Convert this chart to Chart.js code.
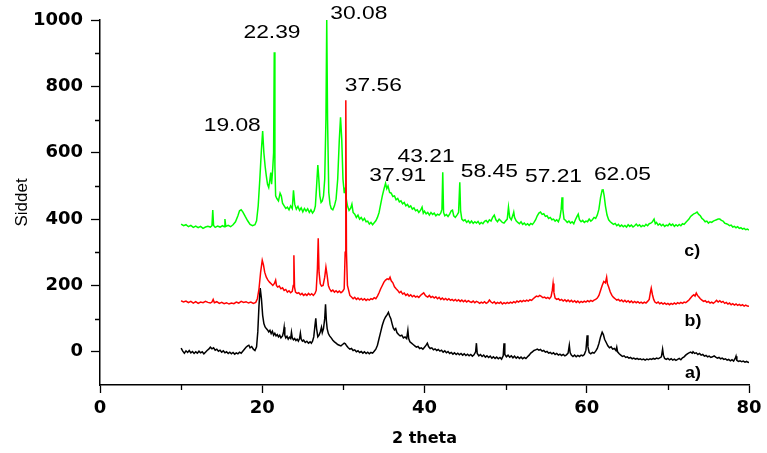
<!DOCTYPE html>
<html>
<head>
<meta charset="utf-8">
<style>
  html, body { margin: 0; padding: 0; background: #fff; }
  #wrap { width: 767px; height: 453px; }
</style>
<script src="https://cdn.jsdelivr.net/npm/chart.js@4.4.1/dist/chart.umd.min.js"></script>
</head>
<body>
<div id="wrap"><canvas id="xrdChart"></canvas></div>
<script>
// sample c) - green trace [2 theta, intensity]
const sampleC = [
  [10.0,385],[10.3,380],[10.6,383],[10.9,377],[11.2,381],[11.5,375],[11.8,379],[12.1,374],[12.4,378],[12.7,372],
  [13.0,376],[13.3,378],[13.6,376],[13.8,380],[13.9,427],[14.0,381],[14.2,375],[14.5,379],[14.8,376],[15.1,380],
  [15.3,377],[15.4,400],[15.5,378],[15.8,381],[16.1,377],[16.4,383],[16.7,392],[17.0,410],[17.2,425],[17.4,428],
  [17.6,422],[17.9,408],[18.2,395],[18.5,384],[18.8,380],[19.1,383],[19.3,395],[19.5,440],[19.7,520],[19.9,610],
  [20.05,665],[20.2,600],[20.35,560],[20.5,530],[20.65,505],[20.8,495],[20.95,520],[21.05,540],[21.15,505],[21.3,555],
  [21.4,600],[21.48,903],[21.56,560],[21.65,470],[21.8,462],[22.0,455],[22.2,478],[22.35,470],[22.5,448],[22.7,440],
  [22.9,432],[23.1,436],[23.3,428],[23.5,440],[23.7,432],[23.85,487],[24.0,445],[24.2,430],[24.4,438],[24.6,426],
  [24.8,434],[25.0,422],[25.2,432],[25.4,424],[25.6,431],[25.8,420],[26.0,428],[26.2,418],[26.4,425],[26.55,440],
  [26.7,500],[26.85,563],[26.95,530],[27.1,470],[27.25,450],[27.4,455],[27.55,470],[27.7,520],[27.85,700],[27.95,1000],
  [28.05,700],[28.2,480],[28.35,445],[28.5,432],[28.7,428],[28.9,440],[29.1,460],[29.3,520],[29.5,640],[29.65,707],
  [29.8,640],[29.95,520],[30.1,480],[30.2,495],[30.35,462],[30.5,440],[30.7,426],[30.9,433],[31.05,445],[31.2,420],
  [31.4,415],[31.6,405],[31.8,412],[32.0,400],[32.2,405],[32.4,396],[32.6,402],[32.8,392],[33.0,394],[33.2,385],
  [33.4,390],[33.6,383],[33.8,389],[34.0,395],[34.2,405],[34.4,420],[34.6,445],[34.8,470],[35.0,490],[35.2,508],
  [35.35,492],[35.5,500],[35.7,480],[35.9,478],[36.1,468],[36.3,470],[36.5,458],[36.7,462],[36.9,452],[37.1,455],
  [37.3,446],[37.5,450],[37.7,440],[37.9,444],[38.1,436],[38.3,440],[38.5,430],[38.7,434],[38.9,425],[39.1,428],
  [39.3,420],[39.5,426],[39.7,436],[39.85,418],[40.0,424],[40.2,416],[40.4,420],[40.6,412],[40.8,420],[41.0,414],
  [41.2,418],[41.4,410],[41.6,415],[41.8,412],[42.0,418],[42.15,430],[42.25,541],[42.35,420],[42.5,410],[42.7,414],
  [42.9,408],[43.1,415],[43.3,425],[43.45,427],[43.6,410],[43.8,405],[44.0,412],[44.2,420],[44.35,511],[44.45,425],
  [44.6,400],[44.8,395],[45.0,398],[45.2,390],[45.4,395],[45.6,388],[45.8,394],[46.0,387],[46.2,392],[46.4,388],
  [46.6,393],[46.8,385],[47.0,390],[47.2,386],[47.4,393],[47.6,396],[47.8,390],[48.0,398],[48.2,394],[48.4,405],
  [48.6,412],[48.8,398],[49.0,392],[49.2,400],[49.4,395],[49.6,390],[49.8,388],[50.0,394],[50.2,400],[50.35,436],
  [50.5,405],[50.7,398],[50.9,412],[51.0,421],[51.1,405],[51.3,395],[51.5,390],[51.7,386],[51.9,392],[52.1,384],
  [52.3,388],[52.5,382],[52.7,386],[52.9,381],[53.1,387],[53.3,384],[53.5,390],[53.7,398],[53.9,410],[54.1,418],
  [54.3,421],[54.5,414],[54.7,416],[54.9,408],[55.1,410],[55.3,402],[55.5,405],[55.7,398],[55.9,400],[56.1,394],
  [56.3,398],[56.5,392],[56.7,405],[56.85,430],[56.95,466],[57.05,430],[57.2,400],[57.4,396],[57.6,390],[57.8,394],
  [58.0,388],[58.2,392],[58.4,386],[58.6,398],[58.8,408],[58.95,415],[59.1,398],[59.3,392],[59.5,396],[59.7,390],
  [59.9,394],[60.1,392],[60.3,400],[60.5,394],[60.7,398],[60.9,405],[61.1,402],[61.3,412],[61.5,430],[61.7,465],
  [61.9,488],[62.0,490],[62.15,470],[62.3,440],[62.5,412],[62.7,398],[62.9,392],[63.1,388],[63.3,384],[63.5,387],
  [63.7,380],[63.9,384],[64.1,378],[64.3,382],[64.5,377],[64.7,381],[64.9,376],[65.1,383],[65.3,378],[65.5,382],
  [65.7,376],[65.9,380],[66.1,385],[66.3,379],[66.5,383],[66.7,377],[66.9,381],[67.1,378],[67.3,384],[67.5,380],
  [67.7,386],[67.9,388],[68.1,392],[68.3,400],[68.45,386],[68.6,390],[68.8,382],[69.0,386],[69.2,380],[69.4,384],
  [69.6,378],[69.8,382],[70.0,380],[70.2,386],[70.4,381],[70.6,385],[70.8,378],[71.0,383],[71.2,379],[71.4,384],
  [71.6,380],[71.8,386],[72.0,384],[72.2,390],[72.4,395],[72.6,400],[72.8,408],[73.0,412],[73.2,416],[73.4,418],
  [73.6,421],[73.8,414],[74.0,410],[74.2,402],[74.4,398],[74.6,392],[74.8,394],[75.0,388],[75.2,392],[75.4,390],
  [75.6,394],[75.8,396],[76.0,398],[76.2,400],[76.4,400],[76.6,396],[76.8,394],[77.0,388],[77.2,386],[77.4,384],
  [77.6,380],[77.8,382],[78.0,376],[78.2,378],[78.4,374],[78.6,377],[78.8,372],[79.0,374],[79.2,370],[79.4,372],
  [79.6,368],[79.8,370],[80.0,367]
];

// sample b) - red trace
const sampleB = [
  [10.0,154],[10.3,150],[10.6,153],[10.9,148],[11.2,152],[11.5,147],[11.8,151],[12.1,146],[12.4,150],[12.7,148],
  [13.0,152],[13.3,149],[13.6,147],[13.8,150],[13.95,158],[14.1,148],[14.4,151],[14.7,146],[15.0,149],[15.3,145],
  [15.6,148],[15.9,144],[16.2,147],[16.5,145],[16.8,150],[17.1,147],[17.4,152],[17.7,149],[18.0,151],[18.3,147],
  [18.6,150],[18.9,146],[19.2,149],[19.4,160],[19.6,190],[19.8,240],[20.0,276],[20.15,262],[20.3,240],[20.5,225],
  [20.7,216],[20.9,210],[21.1,205],[21.3,200],[21.5,206],[21.65,216],[21.75,200],[21.9,195],[22.1,198],[22.3,190],
  [22.5,193],[22.7,185],[22.9,188],[23.1,180],[23.3,184],[23.5,178],[23.7,182],[23.82,200],[23.9,291],[23.98,195],
  [24.1,180],[24.3,176],[24.5,178],[24.7,172],[24.9,176],[25.1,170],[25.3,174],[25.5,170],[25.7,176],[25.9,171],
  [26.1,175],[26.3,170],[26.5,176],[26.65,185],[26.8,250],[26.9,342],[27.0,240],[27.15,205],[27.3,198],[27.5,200],
  [27.7,225],[27.85,255],[28.0,230],[28.15,200],[28.3,190],[28.5,182],[28.7,186],[28.9,180],[29.1,184],[29.3,179],
  [29.5,183],[29.7,178],[29.9,182],[30.1,190],[30.22,300],[30.3,758],[30.38,300],[30.5,200],[30.65,185],[30.8,170],
  [31.0,165],[31.2,160],[31.4,164],[31.6,158],[31.8,162],[32.0,157],[32.2,161],[32.4,156],[32.6,160],[32.8,155],
  [33.0,159],[33.2,156],[33.4,160],[33.6,158],[33.8,163],[34.0,160],[34.2,168],[34.4,178],[34.6,190],[34.8,200],
  [35.0,210],[35.2,216],[35.4,220],[35.6,218],[35.75,225],[35.9,214],[36.1,208],[36.3,196],[36.5,190],[36.7,185],
  [36.9,178],[37.1,182],[37.3,174],[37.5,177],[37.7,170],[37.9,174],[38.1,168],[38.3,172],[38.5,166],[38.7,170],
  [38.9,165],[39.1,168],[39.3,164],[39.5,170],[39.7,174],[39.9,178],[40.05,172],[40.2,168],[40.4,165],[40.6,170],
  [40.8,164],[41.0,167],[41.2,162],[41.4,166],[41.6,160],[41.8,164],[42.0,158],[42.2,162],[42.4,157],[42.6,161],
  [42.8,156],[43.0,160],[43.2,155],[43.4,158],[43.6,154],[43.8,158],[44.0,153],[44.2,157],[44.4,152],[44.6,156],
  [44.8,151],[45.0,155],[45.2,150],[45.4,154],[45.6,151],[45.8,149],[46.0,153],[46.2,148],[46.4,152],[46.6,150],
  [46.8,146],[47.0,150],[47.2,147],[47.4,151],[47.6,146],[47.8,149],[48.0,156],[48.2,150],[48.4,147],[48.6,151],
  [48.8,145],[49.0,149],[49.2,146],[49.4,150],[49.6,144],[49.8,148],[50.0,145],[50.2,149],[50.4,146],[50.6,150],
  [50.8,147],[51.0,151],[51.2,148],[51.4,153],[51.6,150],[51.8,154],[52.0,151],[52.2,155],[52.4,152],[52.6,156],
  [52.8,153],[53.0,157],[53.2,155],[53.4,160],[53.6,164],[53.8,168],[54.0,166],[54.2,170],[54.4,167],[54.6,163],
  [54.8,165],[55.0,161],[55.2,164],[55.4,160],[55.6,166],[55.75,185],[55.85,206],[55.95,180],[56.1,162],[56.3,158],
  [56.5,160],[56.7,155],[56.9,158],[57.1,153],[57.3,157],[57.5,152],[57.7,156],[57.9,151],[58.1,155],[58.3,150],
  [58.5,154],[58.7,149],[58.9,153],[59.1,148],[59.3,152],[59.5,149],[59.7,153],[59.9,150],[60.1,154],[60.3,151],
  [60.5,155],[60.7,152],[60.9,156],[61.1,158],[61.3,162],[61.5,170],[61.7,185],[61.9,200],[62.1,212],[62.3,208],
  [62.45,225],[62.55,205],[62.7,195],[62.9,180],[63.1,170],[63.3,164],[63.5,160],[63.7,156],[63.9,158],[64.1,153],
  [64.3,156],[64.5,151],[64.7,155],[64.9,150],[65.1,154],[65.3,149],[65.5,153],[65.7,148],[65.9,152],[66.1,148],
  [66.3,151],[66.5,147],[66.7,150],[66.9,146],[67.1,150],[67.3,147],[67.5,152],[67.7,158],[67.85,180],[67.95,192],
  [68.1,172],[68.25,158],[68.4,150],[68.6,147],[68.8,150],[69.0,145],[69.2,148],[69.4,144],[69.6,147],[69.8,143],
  [70.0,146],[70.2,142],[70.4,146],[70.6,143],[70.8,147],[71.0,144],[71.2,148],[71.4,145],[71.6,149],[71.8,146],
  [72.0,150],[72.2,148],[72.4,152],[72.6,156],[72.8,162],[73.0,168],[73.2,172],[73.35,168],[73.5,177],[73.65,170],
  [73.8,166],[74.0,160],[74.2,156],[74.4,152],[74.6,154],[74.8,149],[75.0,152],[75.2,147],[75.4,150],[75.6,146],
  [75.8,150],[76.0,155],[76.2,150],[76.4,154],[76.6,149],[76.8,152],[77.0,146],[77.2,149],[77.4,144],[77.6,147],
  [77.8,142],[78.0,145],[78.2,141],[78.4,144],[78.6,140],[78.8,143],[79.0,139],[79.2,142],[79.4,138],[79.6,141],
  [79.8,138],[80.0,137]
];

// sample a) - black trace
const sampleA = [
  [10.0,11],[10.2,2],[10.4,-4],[10.6,3],[10.8,-2],[11.0,4],[11.2,-3],[11.4,1],[11.6,-5],[11.8,0],
  [12.0,-4],[12.2,2],[12.4,-3],[12.6,0],[12.8,-6],[13.0,-1],[13.2,4],[13.4,8],[13.6,14],[13.8,9],
  [14.0,12],[14.2,5],[14.4,8],[14.6,2],[14.8,5],[15.0,-1],[15.2,3],[15.4,-3],[15.6,0],[15.8,-5],
  [16.0,-1],[16.2,-6],[16.4,-2],[16.6,-7],[16.8,-3],[17.0,-6],[17.2,-1],[17.4,-4],[17.6,2],[17.8,8],
  [18.0,14],[18.2,18],[18.35,20],[18.5,12],[18.7,16],[18.9,8],[19.1,4],[19.3,15],[19.45,60],[19.6,140],
  [19.75,192],[19.9,160],[20.05,110],[20.2,85],[20.35,75],[20.5,70],[20.65,66],[20.8,60],[20.95,65],[21.1,55],
  [21.25,62],[21.4,50],[21.55,56],[21.7,48],[21.85,52],[22.0,45],[22.15,50],[22.3,42],[22.5,48],[22.62,60],
  [22.7,74],[22.78,50],[22.9,42],[23.05,47],[23.2,38],[23.35,44],[23.5,40],[23.6,59],[23.7,42],[23.85,36],
  [24.0,40],[24.15,34],[24.3,38],[24.45,32],[24.6,40],[24.7,56],[24.8,38],[24.95,32],[25.1,35],[25.3,28],
  [25.5,32],[25.7,26],[25.9,30],[26.05,26],[26.2,32],[26.35,45],[26.5,80],[26.6,101],[26.7,70],[26.85,45],
  [27.0,50],[27.15,60],[27.3,74],[27.4,58],[27.55,70],[27.7,100],[27.8,143],[27.9,95],[28.0,70],[28.15,55],
  [28.3,48],[28.5,42],[28.7,35],[28.9,30],[29.1,26],[29.3,22],[29.5,20],[29.7,18],[29.9,22],[30.1,26],
  [30.25,24],[30.4,18],[30.6,12],[30.8,8],[31.0,10],[31.2,4],[31.4,6],[31.6,0],[31.8,3],[32.0,-2],
  [32.2,1],[32.4,-4],[32.6,0],[32.8,-5],[33.0,-1],[33.2,-6],[33.4,-2],[33.6,-4],[33.8,2],[34.0,8],
  [34.2,20],[34.4,40],[34.6,60],[34.8,80],[35.0,95],[35.2,105],[35.4,112],[35.55,119],[35.7,108],[35.85,100],
  [36.0,85],[36.15,72],[36.3,66],[36.45,70],[36.6,58],[36.8,52],[37.0,48],[37.2,50],[37.4,42],[37.6,45],
  [37.8,40],[37.95,65],[38.05,40],[38.2,30],[38.4,26],[38.6,22],[38.8,18],[39.0,14],[39.2,16],[39.4,10],
  [39.6,12],[39.8,8],[40.0,14],[40.2,20],[40.35,26],[40.5,16],[40.7,10],[40.9,12],[41.1,6],[41.3,9],
  [41.5,4],[41.7,7],[41.9,2],[42.1,5],[42.3,-1],[42.5,3],[42.7,-3],[42.9,1],[43.1,-5],[43.3,-2],
  [43.5,-7],[43.7,-3],[43.9,-8],[44.1,-4],[44.3,-9],[44.5,-5],[44.7,-10],[44.9,-6],[45.1,-11],[45.3,-7],
  [45.5,-12],[45.7,-8],[45.9,-13],[46.1,-9],[46.3,0],[46.4,26],[46.5,-5],[46.7,-12],[46.9,-8],[47.1,-14],
  [47.3,-10],[47.5,-16],[47.7,-12],[47.9,-17],[48.1,-13],[48.3,-19],[48.5,-15],[48.7,-20],[48.9,-16],[49.1,-21],
  [49.3,-17],[49.5,-22],[49.7,-12],[49.8,26],[49.9,-8],[50.1,-15],[50.3,-10],[50.5,-16],[50.7,-12],[50.9,-18],
  [51.1,-13],[51.3,-19],[51.5,-15],[51.7,-20],[51.9,-16],[52.1,-21],[52.3,-17],[52.5,-20],[52.7,-15],[52.9,-10],
  [53.1,-4],[53.3,0],[53.5,4],[53.7,6],[53.9,8],[54.1,5],[54.3,7],[54.5,2],[54.7,4],[54.9,-1],
  [55.1,1],[55.3,-4],[55.5,-2],[55.7,-6],[55.9,-3],[56.1,-8],[56.3,-5],[56.5,-10],[56.7,-7],[56.9,-11],
  [57.1,-8],[57.3,-12],[57.5,-9],[57.7,-4],[57.85,20],[57.95,-2],[58.1,-10],[58.3,-14],[58.5,-10],[58.7,-15],
  [58.9,-11],[59.1,-14],[59.3,-10],[59.5,-12],[59.7,-8],[59.9,5],[60.05,50],[60.15,15],[60.3,-2],[60.5,-6],
  [60.7,-2],[60.9,-4],[61.1,2],[61.3,10],[61.5,25],[61.7,45],[61.9,59],[62.05,52],[62.2,38],[62.4,28],
  [62.6,18],[62.8,12],[63.0,15],[63.2,8],[63.4,10],[63.6,4],[63.7,14],[63.8,0],[64.0,-6],[64.2,-10],
  [64.4,-14],[64.6,-12],[64.8,-17],[65.0,-15],[65.2,-19],[65.4,-17],[65.6,-21],[65.8,-19],[66.0,-22],[66.2,-20],
  [66.4,-23],[66.6,-21],[66.8,-24],[67.0,-22],[67.2,-25],[67.4,-22],[67.6,-24],[67.8,-21],[68.0,-23],[68.2,-20],
  [68.4,-22],[68.6,-19],[68.8,-21],[69.0,-18],[69.2,-15],[69.35,8],[69.45,-10],[69.6,-20],[69.8,-23],[70.0,-20],
  [70.2,-24],[70.4,-21],[70.6,-25],[70.8,-22],[71.0,-26],[71.2,-23],[71.4,-20],[71.6,-24],[71.8,-18],[72.0,-15],
  [72.2,-10],[72.4,-6],[72.6,-3],[72.8,-1],[73.0,-4],[73.1,0],[73.3,-5],[73.5,-3],[73.7,-8],[73.9,-5],
  [74.1,-10],[74.3,-8],[74.5,-13],[74.7,-11],[74.9,-15],[75.1,-13],[75.3,-17],[75.5,-15],[75.7,-12],[75.9,-16],
  [76.1,-19],[76.3,-17],[76.5,-21],[76.7,-19],[76.9,-23],[77.1,-21],[77.3,-25],[77.5,-23],[77.7,-27],[77.9,-24],
  [78.1,-28],[78.3,-20],[78.4,-13],[78.5,-26],[78.7,-29],[78.9,-27],[79.1,-30],[79.3,-28],[79.5,-31],[79.7,-29],
  [79.9,-32],[80.0,-31]
];

// peak labels and trace names, placed in data units
const peakLabels = ['19.08', '22.39', '30.08', '37.56', '37.91', '43.21', '58.45', '57.21', '62.05'];
const peakLabelX = [16.3, 21.2, 31.9, 33.7, 36.7, 40.2, 48.0, 55.9, 64.4];
const peakLabelY = [680, 961, 1018, 803, 532, 587, 543, 527, 533];
const traceNames = ['c)', 'b)', 'a)'];
const traceNameX = [73.0, 73.1, 73.1];
const traceNameY = [303, 92, -65];

const xMajorTicks = [0, 20, 40, 60, 80];
const xMinorTicks = [10, 30, 50, 70];
const yMajorTicks = [0, 200, 400, 600, 800, 1000];
const yMinorTicks = [100, 300, 500, 700, 900];

function toPoints(rows) {
  return rows.map(r => ({ x: r[0], y: r[1] }));
}

// text in the original is drawn a bit wide, so stretch it sideways
function wideText(ctx, text, x, y, font, stretch) {
  ctx.save();
  ctx.font = font;
  ctx.fillStyle = '#000';
  ctx.textAlign = 'center';
  ctx.textBaseline = 'middle';
  ctx.translate(x, y);
  ctx.scale(stretch, 1);
  ctx.fillText(text, 0, 0);
  ctx.restore();
}

const extrasPlugin = {
  id: 'extras',
  afterDraw(chart) {
    const ctx = chart.ctx;
    const xs = chart.scales.x;
    const ys = chart.scales.y;

    // minor tick marks
    ctx.save();
    ctx.strokeStyle = '#000';
    ctx.lineWidth = 1.3;
    ctx.beginPath();
    yMinorTicks.forEach(v => {
      const py = Math.round(ys.getPixelForValue(v)) + 0.5;
      ctx.moveTo(xs.left - 5, py);
      ctx.lineTo(xs.left, py);
    });
    xMinorTicks.forEach(v => {
      const px = Math.round(xs.getPixelForValue(v)) + 0.5;
      ctx.moveTo(px, ys.bottom);
      ctx.lineTo(px, ys.bottom + 5);
    });
    ctx.stroke();
    ctx.restore();

    peakLabels.forEach((t, i) => {
      wideText(ctx, t, xs.getPixelForValue(peakLabelX[i]), ys.getPixelForValue(peakLabelY[i]),
        '19px "Liberation Sans", Arial, sans-serif', 1.2);
    });
    traceNames.forEach((t, i) => {
      wideText(ctx, t, xs.getPixelForValue(traceNameX[i]), ys.getPixelForValue(traceNameY[i]),
        'bold 17px "Liberation Sans", Arial, sans-serif', 1.05);
    });
  }
};

const xrdConfig = {
  type: 'line',
  data: {
    datasets: [
      { label: 'b)', data: toPoints(sampleB), borderColor: '#ff0000', order: 0 },
      { label: 'a)', data: toPoints(sampleA), borderColor: '#000000', order: 1 },
      { label: 'c)', data: toPoints(sampleC), borderColor: '#00ff00', order: 2 }
    ]
  },
  options: {
    responsive: false,
    animation: false,
    events: [],
    layout: { padding: { top: 20, right: 18, left: 0, bottom: 0 } },
    elements: {
      point: { radius: 0 },
      line: { borderWidth: 1.5, tension: 0 }
    },
    plugins: {
      legend: { display: false },
      tooltip: { enabled: false }
    },
    scales: {
      x: {
        type: 'linear',
        min: 0,
        max: 80,
        afterBuildTicks: scale => { scale.ticks = xMajorTicks.map(v => ({ value: v })); },
        afterFit: scale => { scale.height = 68; },
        grid: { drawOnChartArea: false, tickLength: 8, tickColor: '#000', tickWidth: 1.3 },
        border: { color: '#000', width: 1.5 },
        ticks: {
          color: '#000',
          padding: 5,
          maxRotation: 0,
          callback: v => String(v),
          font: { family: '"DejaVu Sans"', size: 18, weight: 'bold' }
        },
        title: {
          display: true,
          text: '2 theta',
          color: '#000',
          padding: { top: 0, bottom: 5 },
          font: { family: '"DejaVu Sans"', size: 16, weight: 'bold' }
        }
      },
      y: {
        type: 'linear',
        min: -100,
        max: 1000,
        afterBuildTicks: scale => { scale.ticks = yMajorTicks.map(v => ({ value: v })); },
        afterFit: scale => { scale.width = 100; },
        grid: { drawOnChartArea: false, tickLength: 9, tickColor: '#000', tickWidth: 1.3 },
        border: { color: '#000', width: 1.5 },
        ticks: {
          color: '#000',
          padding: 8,
          callback: v => String(v),
          font: { family: '"DejaVu Sans"', size: 18, weight: 'bold' }
        },
        title: {
          display: true,
          text: 'Siddet',
          color: '#000',
          padding: { top: 12, bottom: 0 },
          font: { family: '"Liberation Sans", Arial, sans-serif', size: 17 }
        }
      }
    }
  },
  plugins: [extrasPlugin]
};

const canvas = document.getElementById('xrdChart');
canvas.width = 767;
canvas.height = 453;
const xrdChart = new Chart(canvas, xrdConfig);
</script>
</body>
</html>
